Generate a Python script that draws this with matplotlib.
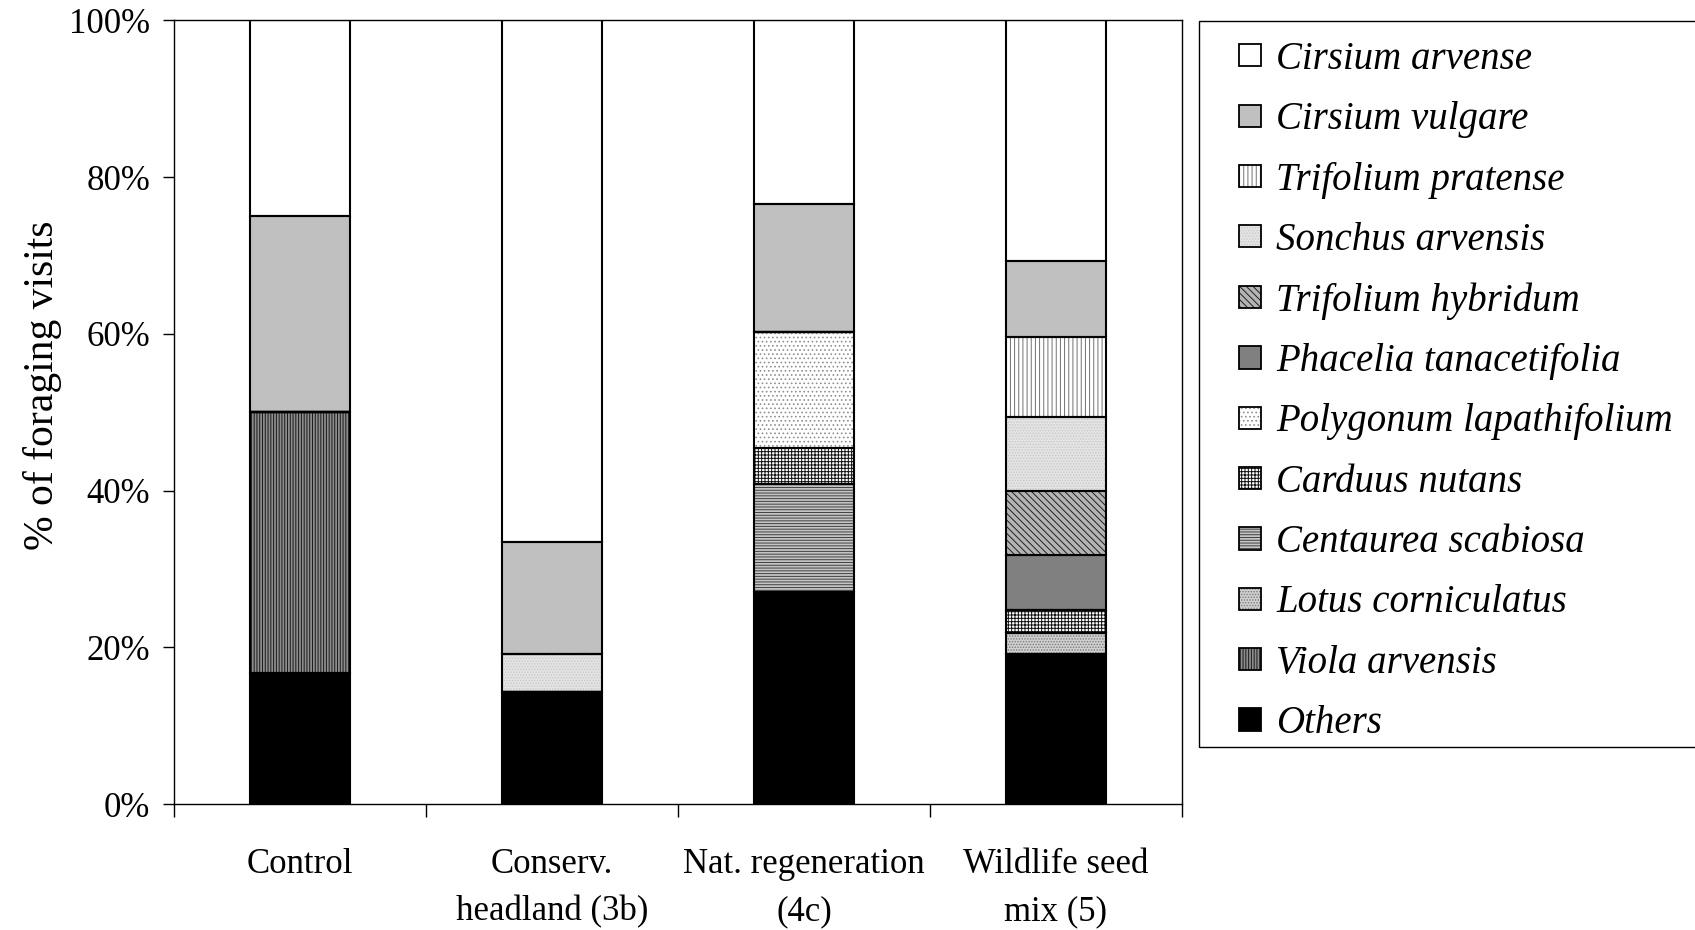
import matplotlib
matplotlib.use("Agg")
from matplotlib import pyplot as plt
from matplotlib.patches import Patch, Rectangle
from matplotlib.legend_handler import HandlerBase
import numpy as np

# categories (x axis)
sites = ["Control", "Conserv.\nheadland (3b)", "Nat. regeneration\n(4c)", "Wildlife seed\nmix (5)"]

# % of foraging visits per plant species, one value per site
others = [16.7, 14.3, 27.0, 19.2]
viola_arvensis = [33.3, 0, 0, 0]
lotus_corniculatus = [0, 0, 0, 2.6]
centaurea_scabiosa = [0, 0, 13.8, 0]
carduus_nutans = [0, 0, 4.6, 3.0]
polygonum_lapathifolium = [0, 0, 14.8, 0]
phacelia_tanacetifolia = [0, 0, 0, 7.0]
trifolium_hybridum = [0, 0, 0, 8.1]
sonchus_arvensis = [0, 4.8, 0, 9.5]
trifolium_pratense = [0, 0, 0, 10.2]
cirsium_vulgare = [25.0, 14.3, 16.4, 9.7]
cirsium_arvense = [25.0, 66.6, 23.4, 30.7]

# stacking order, bottom to top: (name, values, facecolor, hatch, hatch colour)
series = [
    ("Others", others, "black", None, "black"),
    ("Viola arvensis", viola_arvensis, "#8c8c8c", "||||||", "#1a1a1a"),
    ("Lotus corniculatus", lotus_corniculatus, "#d0d0d0", "......", "#7a7a7a"),
    ("Centaurea scabiosa", centaurea_scabiosa, "#c4c4c4", "------", "#404040"),
    ("Carduus nutans", carduus_nutans, "white", "+++++", "#101010"),
    ("Polygonum lapathifolium", polygonum_lapathifolium, "white", "....", "#909090"),
    ("Phacelia tanacetifolia", phacelia_tanacetifolia, "#808080", None, "#808080"),
    ("Trifolium hybridum", trifolium_hybridum, "#b4b4b4", "\\\\\\\\\\", "#202020"),
    ("Sonchus arvensis", sonchus_arvensis, "#e4e4e4", "......", "#c8c8c8"),
    ("Trifolium pratense", trifolium_pratense, "white", "||||", "#707070"),
    ("Cirsium vulgare", cirsium_vulgare, "#c0c0c0", None, "#c0c0c0"),
    ("Cirsium arvense", cirsium_arvense, "white", None, "white"),
]


class SquareHandler(HandlerBase):
    # small hatched square drawn at the right end of the handle box
    def create_artists(self, legend, orig_handle, xdescent, ydescent,
                       width, height, fontsize, trans):
        size = 0.57 * fontsize
        x0 = -xdescent + width - size
        y0 = -ydescent + (height - size) / 2
        fill = Rectangle((x0, y0), size, size, facecolor=orig_handle.get_facecolor(),
                         edgecolor=orig_handle.get_edgecolor(), hatch=orig_handle.get_hatch(),
                         linewidth=0, transform=trans)
        edge = Rectangle((x0, y0), size, size, fill=False, edgecolor="black",
                         linewidth=1.3, transform=trans)
        return [fill, edge]


def main():
    plt.rcParams["font.family"] = ["Liberation Serif", "DejaVu Serif"]
    plt.rcParams["hatch.linewidth"] = 0.7

    W, H = 1695, 930
    fig = plt.figure(figsize=(W / 100, H / 100), dpi=100)
    ax = fig.add_axes([174 / W, 1 - 804 / H, (1182 - 174) / W, (804 - 20.5) / H])

    x = np.arange(len(sites))
    width = 0.4
    bottom = np.zeros(len(sites))
    handles = []
    for name, vals, fc, hatch, hc in series:
        vals = np.array(vals, dtype=float)
        ax.bar(x, vals, width, bottom=bottom, color=fc, edgecolor=hc,
               hatch=hatch, linewidth=0, zorder=2)
        ax.bar(x, vals, width, bottom=bottom, fill=False, edgecolor="black",
               linewidth=1.5, zorder=3)
        bottom += vals
        handles.append(Patch(facecolor=fc, edgecolor=hc, hatch=hatch, label=name))

    ax.set_xlim(-0.5, 3.5)
    ax.set_ylim(0, 100)
    ax.set_yticks(np.arange(0, 101, 20))
    ax.set_yticklabels([f"{v}%" for v in range(0, 101, 20)])
    ax.set_xticks(x)
    ax.set_xticklabels(sites, linespacing=1.56)
    ax.set_xticks(np.arange(-0.5, 3.6, 1), minor=True)
    ax.tick_params(axis="x", which="major", length=0, pad=32, labelsize=25)
    ax.tick_params(axis="x", which="minor", length=9, width=1, direction="out")
    ax.tick_params(axis="y", length=8, width=1, direction="out", pad=9, labelsize=25)
    for s in ax.spines.values():
        s.set_linewidth(1.0)
    ax.set_ylabel("% of foraging visits", fontsize=30)
    ax.yaxis.set_label_coords(-0.111, 0.535)

    # legend box (frame drawn separately, it runs off the right edge)
    fig.add_artist(Rectangle((1199 / W, 1 - 747 / H), 0.4, (747 - 20.5) / H,
                             transform=fig.transFigure, fill=False,
                             edgecolor="black", linewidth=1.0))
    handles = handles[::-1]
    fig.legend(handles, [h.get_label() for h in handles],
               handler_map={Patch: SquareHandler()},
               loc="upper left", bbox_to_anchor=(1210 / W, 1 - 41 / H),
               frameon=False, borderaxespad=0, borderpad=0, labelspacing=0.60,
               handlelength=1.31, handletextpad=0.4,
               prop={"family": "Liberation Serif", "style": "italic", "size": 28})

    fig.savefig("out.png", dpi=100)


if __name__ == "__main__":
    main()
